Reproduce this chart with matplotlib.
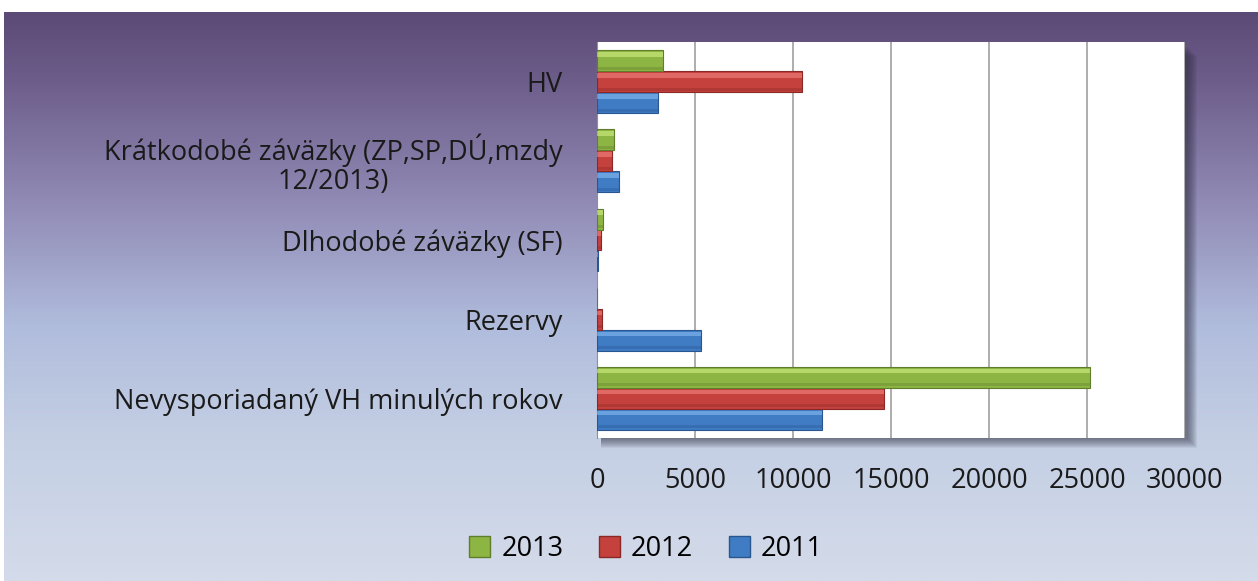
import numpy as np
import matplotlib
matplotlib.use("Agg")
import matplotlib.pyplot as plt
from matplotlib.colors import LinearSegmentedColormap
from matplotlib.patches import Rectangle, Patch

categories = ["Nevysporiadaný VH minulých rokov", "Rezervy", "Dlhodobé záväzky (SF)",
              "Krátkodobé záväzky (ZP,SP,DÚ,mzdy\n12/2013)", "HV"]
v2011 = [11500, 5300, 60, 1140, 3100]
v2012 = [14650, 270, 200, 770, 10450]
v2013 = [25150, 0, 290, 870, 3350]
years = ["2013", "2012", "2011"]
xticks = [0, 5000, 10000, 15000, 20000, 25000, 30000]

FONT = ["Open Sans", "DejaVu Sans"]
plt.rcParams['font.family'] = FONT
FS = 19.5

W, H = 1258, 581
fig = plt.figure(figsize=(W / 100, H / 100), dpi=100)
fig.patch.set_facecolor("white")

# background gradient panel
bg = fig.add_axes([4 / W, 0, 1 - 4 / W, 1 - 12 / H], zorder=-10)
bg.set_axis_off()
cmap = LinearSegmentedColormap.from_list("bgc", [
    (0.0, "#5c4a76"), (0.12, "#6d5d8a"), (0.35, "#938eb8"),
    (0.55, "#b0bcdc"), (0.75, "#c4cfe4"), (1.0, "#d4dbea")])
grad = np.linspace(0, 1, 256).reshape(-1, 1)
bg.imshow(grad, aspect="auto", cmap=cmap, extent=[0, 1, 1, 0])
bg.set_xlim(0, 1)
bg.set_ylim(1, 0)

# plot area geometry
L, R, T, B = 597, 1185, 42, 438

# drop shadow (in background axes, figure coords)
for i in range(10):
    off = 10 - i
    bg.add_patch(Rectangle(((L + 4) / W, 1 - (B + off) / H),
                           (R - L + off - 2) / W, (B - T - 4) / H,
                           transform=fig.transFigure, facecolor="#2a2a3c",
                           edgecolor="none", alpha=0.07, zorder=5))

ax = fig.add_axes([L / W, 1 - B / H, (R - L) / W, (B - T) / H], zorder=1)
ax.set_facecolor("white")

n = len(categories)
y = np.arange(n)
h = 0.265
cols = {"2013": ("#8db543", "#d2ee85", "#5f7d2a"),
        "2012": ("#c4413e", "#f58480", "#8a2826"),
        "2011": ("#3f7cc4", "#86bdf2", "#2a5690")}
series = {"2011": (v2011, -h), "2012": (v2012, 0.0), "2013": (v2013, h)}

for yr in ["2011", "2012", "2013"]:
    vals, off = series[yr]
    base, light, dark = cols[yr]
    ax.barh(y + off, vals, height=h, color=base, edgecolor=dark, linewidth=0.8, zorder=3)
    # bevel highlight (top) and shade (bottom)
    ax.barh(y + off + h * 0.30, vals, height=h * 0.22, color=light, alpha=0.6,
            edgecolor="none", zorder=4)
    ax.barh(y + off - h * 0.36, vals, height=h * 0.14, color=dark, alpha=0.35,
            edgecolor="none", zorder=4)

ax.set_xlim(0, 30000)
ax.set_ylim(-0.5, n - 0.5)
ax.set_xticks(xticks)
ax.set_xticklabels([str(t) for t in xticks], fontsize=FS, color="#1a1a1a")
ax.set_yticks(y)
ax.set_yticklabels(categories, fontsize=FS, color="#1a1a1a", multialignment="center",
                   linespacing=1.05)
ax.tick_params(axis="both", length=0)
ax.tick_params(axis="x", pad=21)
ax.tick_params(axis="y", pad=25)
ax.xaxis.grid(True, color="#a0a0a0", linewidth=1.2, zorder=0)
ax.set_axisbelow(True)
for s in ["top", "right", "bottom"]:
    ax.spines[s].set_visible(False)
ax.spines["left"].set_color("#909090")

handles = [Patch(facecolor=cols[yr][0], edgecolor=cols[yr][2]) for yr in years]
fig.legend(handles, years, loc="center", bbox_to_anchor=(646 / W, 1 - 549 / H),
           ncol=3, frameon=False, fontsize=FS, handlelength=0.8, handleheight=0.8,
           handletextpad=0.4, columnspacing=1.3)

fig.savefig("out.png", dpi=100)
